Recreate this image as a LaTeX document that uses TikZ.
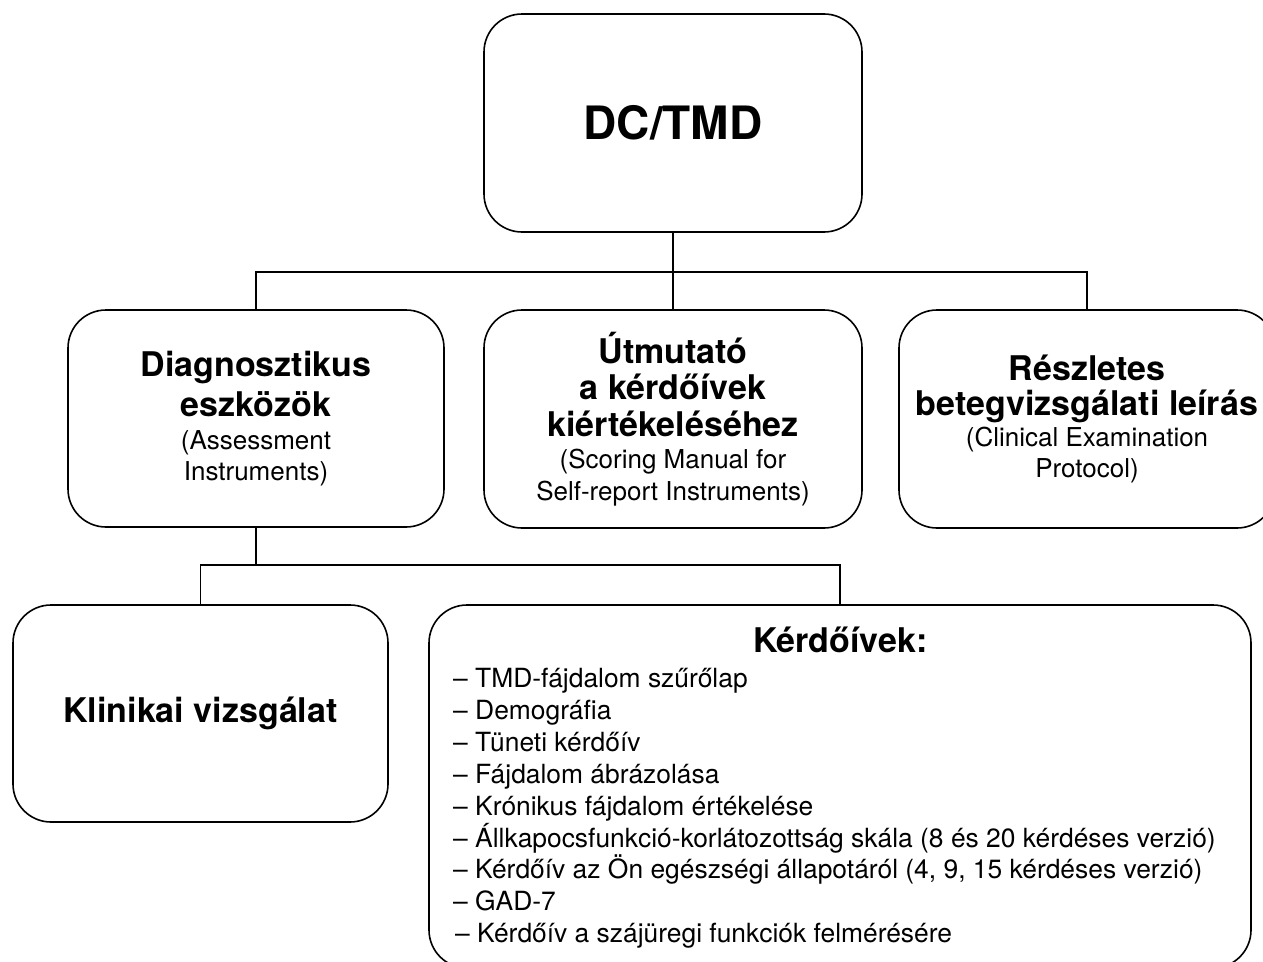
\documentclass[tikz,border=0pt]{standalone}
\usepackage{fontspec}
\setmainfont{TeX Gyre Heros}
\newcommand*\fixsp{\spaceskip=\fontdimen2\font\xspaceskip=\fontdimen2\font\relax}
\newcommand*\tbold[1][40]{\fontsize{34}{#1}\selectfont\bfseries\fixsp\ignorespaces}
\newcommand*\tsmall[2][31]{\fontsize{#2}{#1}\selectfont\mdseries\fixsp\ignorespaces}
\begin{document}
\begin{tikzpicture}[x=1pt,y=-1pt,
  box/.style={draw, line width=1.6pt, rounded corners=38pt, align=center, inner sep=0pt},
  conn/.style={line width=1.6pt},
  txt/.style={inner sep=0pt}]
\useasboundingbox (0,0) rectangle (1263,961);

% top
\node[box, minimum width=378pt, minimum height=218pt] (top) at (673,123)
  {\fontsize{46}{50}\selectfont\bfseries DC/TMD};

% second row
\node[box, minimum width=376pt, minimum height=217pt, text width=366pt] (diag) at (256,418.5)
  {\tbold[40] Diagnosztikus\\eszközök\par\vspace{2pt}\tsmall[31]{26} (Assessment\\Instruments)\par};
\node[box, minimum width=378pt, minimum height=218pt, text width=368pt] (utm) at (673,419)
  {\tbold[36.5] Útmutató\\a kérdőívek\\kiértékeléséhez\par\tsmall[32]{26} (Scoring Manual for\\Self-report Instruments)\par};
\node[box, minimum width=376pt, minimum height=218pt, text width=368pt] (resz) at (1087,419)
  {\tbold[35] Részletes\\betegvizsgálati leírás\par\tsmall[31]{26} (Clinical Examination\\Protocol)\par};

% third row
\node[box, minimum width=375pt, minimum height=217pt] (klin) at (200.5,713.5)
  {\tbold Klinikai vizsgálat};
\node[box, minimum width=822pt, minimum height=363pt] (kerd) at (840,786.5) {};
\node[txt, anchor=north west, text width=774pt, align=left] (kerdtxt) at (453,627)
  {\centering\tbold[35] Kérdőívek:\par\vspace{2.9pt}
   \raggedright\tsmall[31.9]{26.4}
   – TMD-fájdalom szűrőlap\\
   – Demográfia\\
   – Tüneti kérdőív\\
   – Fájdalom ábrázolása\\
   – Krónikus fájdalom értékelése\\
   – Állkapocsfunkció-korlátozottság skála (8 és 20 kérdéses verzió)\\
   – Kérdőív az Ön egészségi állapotáról (4, 9, 15 kérdéses verzió)\\
   – GAD-7\\
   \hspace*{2pt}– Kérdőív a szájüregi funkciók felmérésére\par};

% connectors
\coordinate (bus1) at (673,272);
\coordinate (bus2) at (256,565);
\draw[conn] (top.south) -- (utm.north);
\draw[conn] (diag.north) |- (bus1) -| (resz.north);
\draw[conn] (diag.south) -- (bus2);
\draw[conn] (klin.north) |- (bus2) -| (kerd.north);
\end{tikzpicture}
\end{document}
